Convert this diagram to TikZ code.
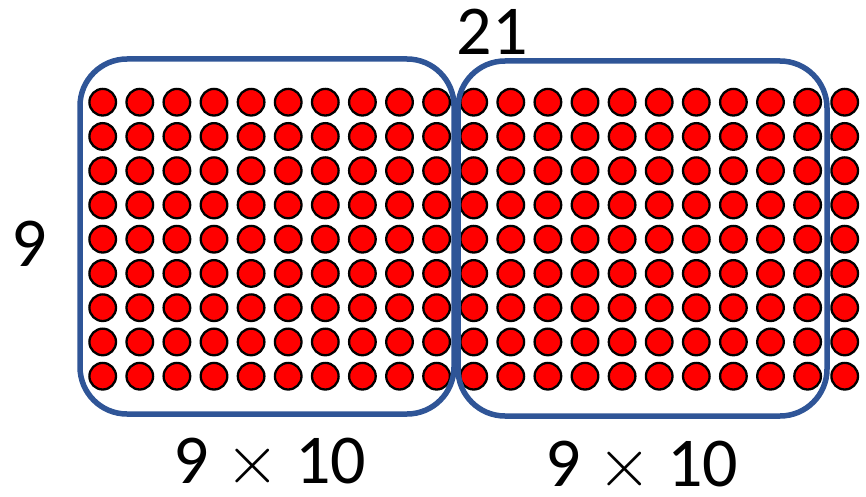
\RequirePackage{fix-cm}
\documentclass[tikz,border=0pt]{standalone}
\usepackage{fontspec}
\setmainfont{Carlito}
\usepackage{tikz}
\usetikzlibrary{positioning}

\definecolor{boxblue}{RGB}{47,85,151}

\begin{document}
\begin{tikzpicture}[
    x=1pt, y=-1pt,
    every node/.style={font=\fontsize{70}{84}\selectfont, inner sep=0pt},
    dot/.style={circle, draw=black, fill=red, line width=2.3pt, minimum size=26.6pt},
    half/.style={draw=boxblue, line width=5.5pt, rounded corners=47pt}
  ]
    \useasboundingbox (0,0) rectangle (866,497);

    % Dots: 9 rows, 21 columns
    \foreach \row in {0,...,8} {
      \foreach \col in {0,...,20} {
        \node[dot] (d-\row-\col) at ({102.7+37.1*\col},{102.2+34.25*\row}) {};
      }
    }

    % The two groups of ten columns
    \node[half, minimum width=374pt, minimum height=355pt] (lefthalf) at (267,236.5) {};
    \node[half, minimum width=369pt, minimum height=355pt] (righthalf) at (642.5,238.5) {};

    % Labels
    \node (cols) at (492,32) {21};
    \node (rows) at (29,244) {9};
    \node (leftprod) at (270,464) {9 $\times$ 10};
    \node (rightprod) at (642,467) {9 $\times$ 10};

  \end{tikzpicture}
\end{document}
